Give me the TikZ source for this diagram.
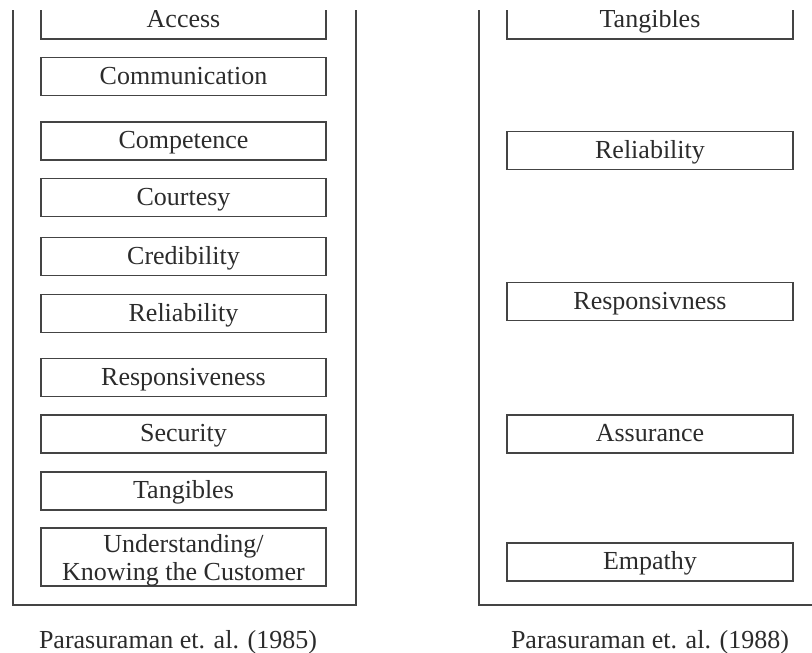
\documentclass[tikz,border=0pt]{standalone}
\usepackage{fontspec}
\setmainfont{Liberation Serif}
\definecolor{linec}{HTML}{444444}
\definecolor{txtc}{HTML}{2B2B2B}
\begin{document}
\begin{tikzpicture}[x=1pt,y=-1pt,
  outer/.style={draw=linec, line width=1.8pt},
  item/.style={draw=linec, line width=1.3pt, minimum width=285pt, minimum height=38pt,
    inner sep=0pt, text height=18pt, text depth=3pt,
    font=\fontsize{26}{28}\selectfont, text=txtc},
  twoline/.style={draw=linec, line width=1.3pt, minimum width=285pt, minimum height=58pt,
    inner sep=0pt, align=center, font=\fontsize{26}{28}\selectfont, text=txtc},
  caption/.style={anchor=base, inner sep=0pt, font=\fontsize{26}{28}\selectfont, text=txtc}]
\useasboundingbox (0,0) rectangle (812,653);
\begin{scope}
  \clip (0,10) rectangle (812,653);
  \draw[outer] (13,-20) -- (13,605) -- (356,605) -- (356,-20);
  \draw[outer] (479,-20) -- (479,605) -- (840,605);
  % left column
  \node[item] (access) at (183.5,20) {Access};
  \node[item] (comm) at (183.5,76.5) {Communication};
  \node[item] (comp) at (183.5,141) {Competence};
  \node[item] (court) at (183.5,197.5) {Courtesy};
  \node[item] (cred) at (183.5,256.5) {Credibility};
  \node[item] (relL) at (183.5,313.5) {Reliability};
  \node[item] (respL) at (183.5,377.5) {Responsiveness};
  \node[item] (sec) at (183.5,434) {Security};
  \node[item] (tangL) at (183.5,491) {Tangibles};
  \node[twoline] (under) at (183.5,557) {\rule{0pt}{24pt}Understanding/\\Knowing the Customer};
  % right column
  \node[item, minimum width=286pt] (tangR) at (650,20) {Tangibles};
  \node[item, minimum width=286pt] (relR) at (650,150.5) {Reliability};
  \node[item, minimum width=286pt] (respR) at (650,301.5) {Responsivness};
  \node[item, minimum width=286pt] (assur) at (650,434) {Assurance};
  \node[item, minimum width=286pt] (emp) at (650,562) {Empathy};
\end{scope}
\node[caption] (capL) at (178,648) {Parasuraman et. al. (1985)};
\node[caption] (capR) at (650,648) {Parasuraman et. al. (1988)};
\end{tikzpicture}
\end{document}
